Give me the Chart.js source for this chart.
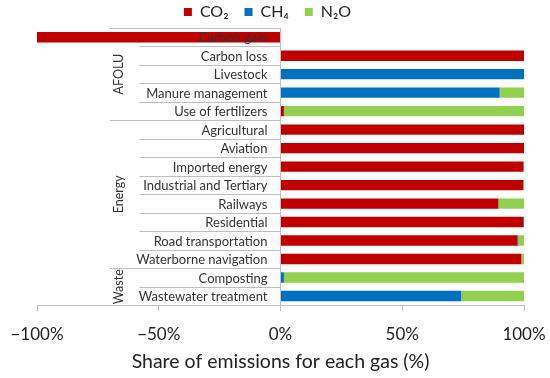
<!DOCTYPE html>
<html>
<head>
<meta charset="utf-8">
<script src="https://cdn.jsdelivr.net/npm/chart.js@4.4.0/dist/chart.umd.min.js"></script>
<style>
  html, body { margin: 0; padding: 0; background: #fff; }
</style>
</head>
<body>
<canvas id="chart" width="550" height="378"></canvas>
<script>
// categories (top to bottom) and the group each one belongs to
const categories = ['Carbon gain', 'Carbon loss', 'Livestock', 'Manure management', 'Use of fertilizers',
  'Agricultural', 'Aviation', 'Imported energy', 'Industrial and Tertiary', 'Railways', 'Residential',
  'Road transportation', 'Waterborne navigation',
  'Composting', 'Wastewater treatment'];
const groupNames = ['AFOLU', 'Energy', 'Waste'];
const groupFirst = [0, 5, 13];
const groupLast = [4, 12, 14];

// share of emissions for each gas (%)
const co2 = [-100, 100, 0, 0, 1.4, 100, 100, 99.8, 99.7, 89.5, 99.7, 97.3, 98.9, 0, 0];
const ch4 = [0, 0, 100, 90, 0, 0, 0, 0, 0, 0, 0.3, 0.4, 0, 1.4, 74.2];
const n2o = [0, 0, 0, 10, 98.6, 0, 0, 0.2, 0.3, 10.5, 0, 2.3, 1.1, 98.6, 25.8];

const xTicks = [-100, -50, 0, 50, 100];

const FONT = 'Lato';
const AXIS_GREY = '#bfbfbf';

// row labels, separators and group labels drawn in the negative half, like the Excel table axis
const tableAxis = {
  id: 'tableAxis',
  afterLayout(chart) {
    // legend sits a bit left of centre in the original
    chart.legend.left -= 13;
    chart.legend.right -= 13;
    chart.legend.top += 2;
    chart.legend.bottom += 2;
  },
  afterDatasetsDraw(chart) {
    const {ctx, scales: {x, y}} = chart;
    const x0 = x.getPixelForValue(0);
    const half = (y.getPixelForValue(1) - y.getPixelForValue(0)) / 2;
    const groupX = x.getPixelForValue(-70);
    const rowX = x.getPixelForValue(-58);
    ctx.save();
    ctx.strokeStyle = AXIS_GREY;
    ctx.lineWidth = 1;
    categories.forEach((c, i) => {
      const top = Math.round(y.getPixelForValue(i) - half) + 0.5;
      const start = groupFirst.includes(i) ? groupX : rowX;
      ctx.beginPath();
      ctx.moveTo(start, top);
      ctx.lineTo(x0, top);
      ctx.stroke();
    });
    ctx.fillStyle = '#333';
    ctx.font = '13px ' + FONT;
    ctx.textAlign = 'right';
    ctx.textBaseline = 'middle';
    categories.forEach((c, i) => {
      ctx.fillText(c, x0 - 13, y.getPixelForValue(i) + 1);
    });
    ctx.textAlign = 'center';
    ctx.font = '12.5px ' + FONT;
    groupNames.forEach((g, k) => {
      const cy = (y.getPixelForValue(groupFirst[k]) + y.getPixelForValue(groupLast[k])) / 2;
      ctx.save();
      ctx.translate(groupX + 9, cy);
      ctx.rotate(-Math.PI / 2);
      ctx.fillText(g, 0, 0);
      ctx.restore();
    });
    ctx.restore();
  }
};

new Chart(document.getElementById('chart'), {
  type: 'bar',
  data: {
    labels: categories,
    datasets: [
      {label: 'CO₂', data: co2, backgroundColor: '#C00000'},
      {label: 'CH₄', data: ch4, backgroundColor: '#0070C0'},
      {label: 'N₂O', data: n2o, backgroundColor: '#92D050'}
    ]
  },
  options: {
    indexAxis: 'y',
    responsive: false,
    animation: false,
    devicePixelRatio: 1,
    layout: {padding: {left: 37, right: 26, top: -14, bottom: 5}},
    datasets: {bar: {categoryPercentage: 1, barPercentage: 0.56, borderWidth: 0}},
    plugins: {
      legend: {
        position: 'top',
        labels: {boxWidth: 8, boxHeight: 8, padding: 16, color: '#222', font: {family: FONT, size: 16}}
      },
      tooltip: {enabled: false}
    },
    scales: {
      x: {
        stacked: true,
        min: -100,
        max: 100,
        afterBuildTicks: s => { s.ticks = xTicks.map(v => ({value: v})); },
        // keep the plot edges at the layout padding, not widened by the tick labels
        afterFit: s => { s.paddingLeft = 0; s.paddingRight = 0; },
        grid: {
          color: c => (c.tick && c.tick.value === 0 ? AXIS_GREY : 'rgba(0,0,0,0)'),
          tickColor: AXIS_GREY,
          tickLength: 6
        },
        border: {display: true, color: AXIS_GREY},
        ticks: {
          color: '#222',
          font: {family: FONT, size: 17},
          padding: 13,
          maxRotation: 0,
          callback: v => (v < 0 ? '−' : '') + Math.abs(v) + '%'
        },
        title: {
          display: true,
          text: 'Share of emissions for each gas (%)',
          color: '#222',
          font: {family: FONT, size: 19.5},
          padding: {top: -8, bottom: 0}
        }
      },
      y: {
        stacked: true,
        display: false
      }
    }
  },
  plugins: [tableAxis]
});
</script>
</body>
</html>
